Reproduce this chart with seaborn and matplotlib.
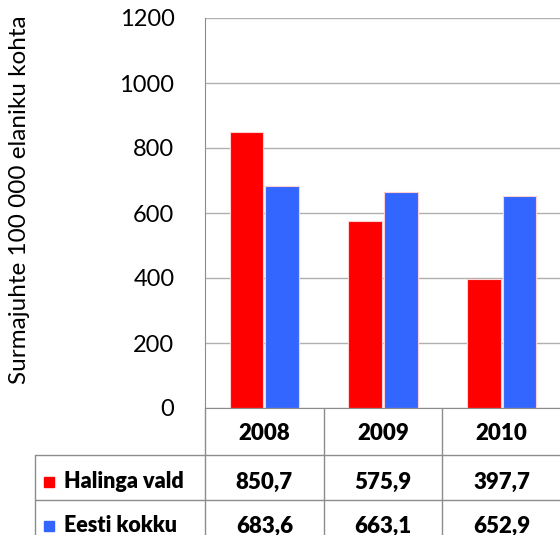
import numpy as np
import pandas as pd
import matplotlib
matplotlib.use("Agg")
import matplotlib.pyplot as plt
import matplotlib.transforms as mtransforms
import seaborn as sns

# andmed
years = ["2008", "2009", "2010"]
series = ["Halinga vald", "Eesti kokku"]
halinga = [850.7, 575.9, 397.7]
eesti = [683.6, 663.1, 652.9]
colors = ["#FF0000", "#3366FF"]
yticks = [0, 200, 400, 600, 800, 1000, 1200]

df = pd.DataFrame({
    "aasta": years * 2,
    "seeria": [series[0]] * 3 + [series[1]] * 3,
    "vaartus": halinga + eesti,
})

sns.set_style("white")
plt.rcParams["font.family"] = ["Lato", "DejaVu Sans"]
plt.rcParams["text.color"] = "black"
plt.rcParams["ytick.color"] = "black"

W, H = 560, 535
fig = plt.figure(figsize=(W / 100, H / 100), dpi=100)
ax = fig.add_axes([205 / W, 1 - 408 / H, 356 / W, 390 / H])

sns.barplot(data=df, x="aasta", y="vaartus", hue="seeria", palette=colors,
            saturation=1, width=0.6, gap=0.05, edgecolor="#ffd0d0",
            linewidth=0.8, ax=ax, legend=False)

ax.set_ylim(0, 1200)
ax.set_xlim(-0.5, 2.5)
ax.set_yticks(yticks)
ax.set_yticklabels([str(v) for v in yticks], fontsize=17)
ax.tick_params(axis="y", length=0, pad=22)
ax.set_xticks([])
ax.set_xlabel("")
ax.set_ylabel("")
ax.yaxis.grid(True, color="#b0b0b0", linewidth=1)
ax.set_axisbelow(True)
for s in ["top", "right"]:
    ax.spines[s].set_visible(False)
ax.spines["left"].set_color("#8c8c8c")
ax.spines["bottom"].set_color("#8c8c8c")

fig.text(20 / W, 1 - 200 / H, "Surmajuhte 100 000 elaniku kohta", rotation=90,
         ha="center", va="center", fontsize=17.5)

# andmetabel
tab = fig.add_axes([0, 0, 1, 1], zorder=-1)
tab.set_xlim(0, W)
tab.set_ylim(H, 0)
tab.axis("off")
tr = mtransforms.blended_transform_factory(ax.transData, tab.transData)
lc = "#8c8c8c"
for xb in [-0.5, 0.5, 1.5]:
    tab.plot([xb, xb], [408, H], color=lc, lw=1, transform=tr)
tab.plot([35, W], [455, 455], color=lc, lw=1)
tab.plot([35, W], [500, 500], color=lc, lw=1)
tab.plot([35, 35], [455, H], color=lc, lw=1)

for i, y in enumerate(years):
    tab.text(i, 434, y, transform=tr, ha="center", va="center",
             fontsize=16, fontweight="heavy")
rows = [halinga, eesti]
row_y = [482, 526]
for r, vals in enumerate(rows):
    tab.add_patch(plt.Rectangle((44, row_y[r] - 5), 10, 10, color=colors[r]))
    tab.text(64, row_y[r], series[r], ha="left", va="center",
             fontsize=15.5, fontweight="heavy")
    for i, v in enumerate(vals):
        tab.text(i, row_y[r], f"{v:.1f}".replace(".", ","), transform=tr,
                 ha="center", va="center", fontsize=16, fontweight="heavy")

fig.savefig("out.png", dpi=100)
